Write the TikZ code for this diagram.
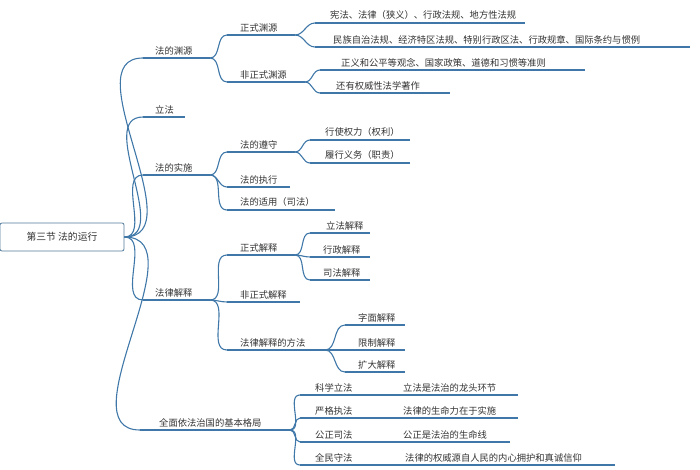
\documentclass[tikz,border=0pt]{standalone}
\usepackage{fontspec}
\setmainfont{Noto Sans CJK SC}
\definecolor{ln}{HTML}{3F78A8}
\definecolor{tx}{HTML}{333333}
\tikzset{
  ln/.style={draw=ln,line width=1.1pt},
  conn/.style={draw=ln,line width=1.1pt},
  lbl/.style={anchor=south west,inner sep=1pt,text=tx,font=\fontsize{9.3}{10}\selectfont},
}
\newcommand\mbr[5]{%
  \coordinate (#1-s) at (#3,#4);
  \coordinate (#1-e) at (#5,#4);
  \draw[ln] (#1-s) -- (#1-e);
  \node[lbl] (#1) at ([xshift=#2pt,yshift=2pt]#1-s) {};
}
\newcommand\br[6]{%
  \coordinate (#1-s) at (#3,#4);
  \coordinate (#1-e) at (#5,#4);
  \draw[ln] (#1-s) -- (#1-e);
  \node[lbl] (#1) at ([xshift=#6pt,yshift=2pt]#1-s) {#2};
}
\newcommand\cn[2]{\draw[conn] (#1-e) to[out=0,in=180] (#2-s);}
\begin{document}
\begin{tikzpicture}[x=1pt,y=-1pt]
\useasboundingbox (0,0) rectangle (700,470);
\node[draw=ln!70!gray,rounded corners=2pt,line width=0.8pt,minimum width=124pt,minimum height=28pt,text=tx,font=\fontsize{9.8}{11}\selectfont] (root) at (62,237) {第三节\ 法的运行};
\coordinate (root-e) at (root.east);
% level 1
\br{a}{法的渊源}{143}{58}{210}{11}
\br{b}{立法}{143}{117}{185}{11}
\br{c}{法的实施}{143}{175}{210}{11}
\br{d}{法律解释}{143}{300}{210}{11}
\br{e}{全面依法治国的基本格局}{140}{430}{290}{18}
\foreach \t in {a,b,c,d,e}{\draw[conn] (root-e) to[out=0,in=180] (\t-s);}
% 法的渊源
\br{a1}{正式渊源}{227}{35}{295}{12}
\br{a2}{非正式渊源}{227}{82}{305}{12}
\cn{a}{a1}\cn{a}{a2}
\br{a11}{宪法、法律（狭义）、行政法规、地方性法规}{315}{23}{525}{14}
\br{a12}{民族自治法规、经济特区法规、特别行政区法、行政规章、国际条约与惯例}{315}{47}{690}{17}
\cn{a1}{a11}\cn{a1}{a12}
\br{a21}{正义和公平等观念、国家政策、道德和习惯等准则}{320}{70}{585}{20}
\br{a22}{还有权威性法学著作}{320}{93}{450}{15}
\cn{a2}{a21}\cn{a2}{a22}
% 法的实施
\br{c1}{法的遵守}{227}{152}{295}{12}
\br{c2}{法的执行}{227}{187}{290}{12}
\br{c3}{法的适用（司法）}{227}{210}{335}{12}
\cn{c}{c1}\cn{c}{c2}\cn{c}{c3}
\br{c11}{行使权力（权利）}{310}{140}{410}{14}
\br{c12}{履行义务（职责）}{310}{163}{410}{14}
\cn{c1}{c11}\cn{c1}{c12}
% 法律解释
\br{d1}{正式解释}{227}{255}{295}{12}
\br{d2}{非正式解释}{227}{302}{300}{12}
\br{d3}{法律解释的方法}{227}{350}{325}{12}
\cn{d}{d1}\cn{d}{d2}\cn{d}{d3}
\br{d11}{立法解释}{310}{233}{370}{15}
\br{d12}{行政解释}{310}{257}{370}{12}
\br{d13}{司法解释}{310}{280}{370}{12}
\cn{d1}{d11}\cn{d1}{d12}\cn{d1}{d13}
\br{d31}{字面解释}{345}{325}{405}{12}
\br{d32}{限制解释}{345}{350}{405}{12}
\br{d33}{扩大解释}{345}{372}{405}{12}
\cn{d3}{d31}\cn{d3}{d32}\cn{d3}{d33}
% 全面依法治国
\br{e1}{科学立法}{300}{395}{390}{14}
\br{e2}{严格执法}{300}{418}{390}{14}
\br{e3}{公正司法}{300}{442}{390}{14}
\br{e4}{全民守法}{300}{465}{390}{14}
\foreach \t in {e1,e2,e3,e4}{\draw[conn] (e-e) to[out=0,in=180] (\t-s);}
\br{f1}{立法是法治的龙头环节}{390}{395}{518}{12}
\br{f2}{法律的生命力在于实施}{390}{418}{518}{12}
\br{f3}{公正是法治的生命线}{390}{442}{510}{12}
\br{f4}{法律的权威源自人民的内心拥护和真诚信仰}{390}{465}{615}{14}
\draw[ln] (e1-e) -- (f1-s);
\end{tikzpicture}
\end{document}
